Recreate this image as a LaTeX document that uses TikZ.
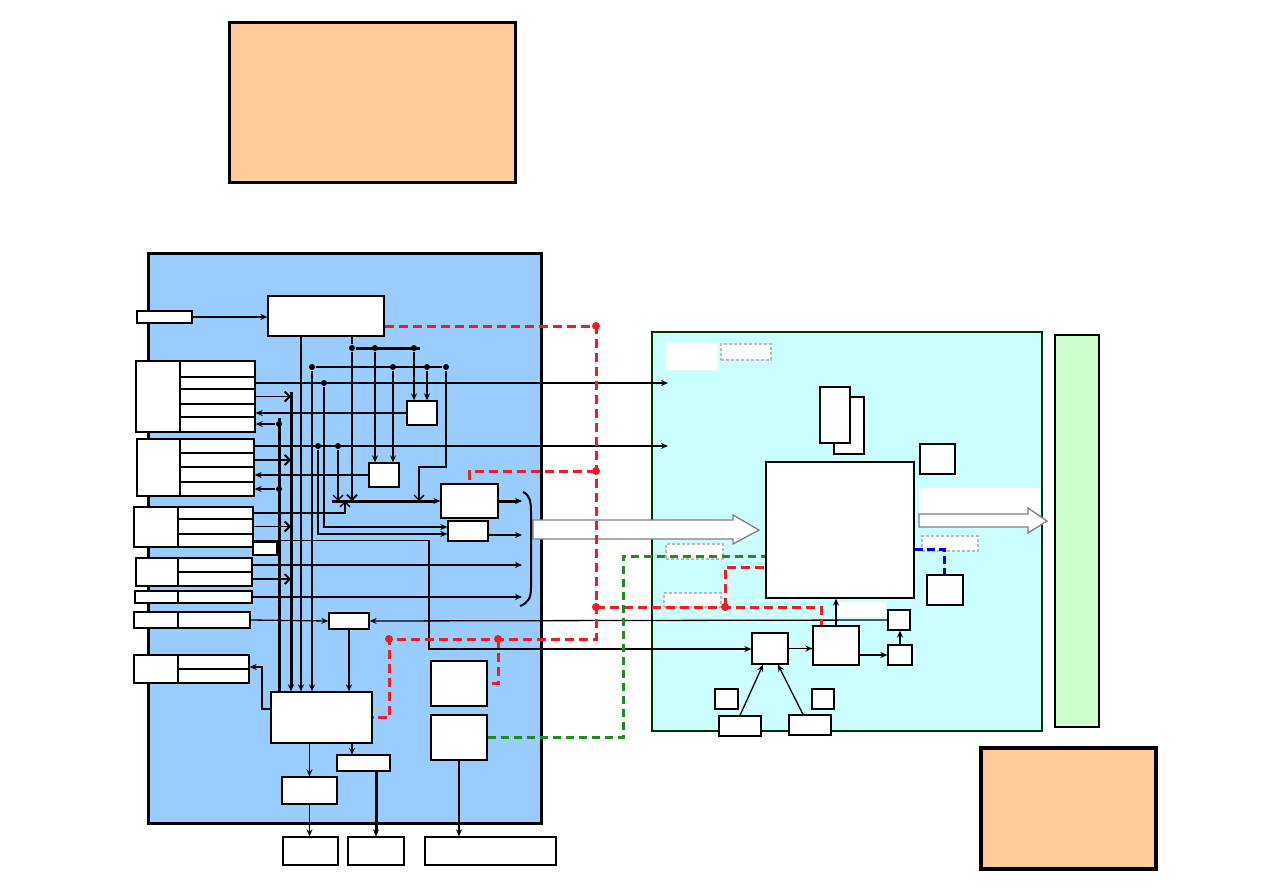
\documentclass[tikz,border=0pt]{standalone}
\usepackage{tikz}
\usetikzlibrary{arrows.meta}
\definecolor{boardblue}{HTML}{99CCFF}
\definecolor{boardcyan}{HTML}{CCFFFF}
\definecolor{railgreen}{HTML}{CCFFCC}
\definecolor{noteorange}{HTML}{FFCC99}
\definecolor{framegreen}{HTML}{003300}
\definecolor{sigred}{HTML}{EE1C25}
\definecolor{siggreen}{HTML}{1E8C1E}
\definecolor{sigblue}{HTML}{0000DD}

\begin{document}
\begin{tikzpicture}[x=1pt,y=-1pt,line width=1.3pt,
  >={Stealth[length=7pt,width=6pt]},
  blk/.style n args={2}{draw,fill=white,inner sep=0pt,minimum width=#1,minimum height=#2},
  tag/.style n args={2}{draw=gray!55,fill=white,dash pattern=on 3pt off 2pt,inner sep=0pt,minimum width=#1,minimum height=#2},
  pad/.style n args={2}{fill=white,inner sep=0pt,minimum width=#1,minimum height=#2},
  dot/.style={circle,fill,inner sep=0pt,minimum size=6pt},
  rdot/.style={circle,fill=sigred,inner sep=0pt,minimum size=8pt},
  mid/.style={line width=1.8pt},
  bus/.style={line width=3pt},
  barb/.style={-{Straight Barb[length=5pt,width=10pt]}},
  reddash/.style={draw=sigred,line width=3pt,dash pattern=on 9pt off 5pt},
  greendash/.style={draw=siggreen,line width=3pt,dash pattern=on 8pt off 5pt},
  bluedash/.style={draw=sigblue,line width=3pt,dash pattern=on 8pt off 4pt}]
\useasboundingbox (0,0) rectangle (1263,893);

% notes and boards
\filldraw[fill=noteorange,line width=3pt] (229,23) rectangle (515,183);
\filldraw[fill=noteorange,line width=4pt] (981,748) rectangle (1156,869);
\filldraw[fill=boardblue,line width=3pt] (148,254) rectangle (541,823);
\filldraw[fill=boardcyan,draw=framegreen,line width=2pt] (652,332) rectangle (1042,731);
\filldraw[fill=railgreen,line width=2pt] (1055,335) rectangle (1099,727);

% left board
\node[blk={55}{12}]  (src)  at (164.5,317) {};
\node[blk={116}{40}] (ctrl) at (326,316) {};
\node[blk={44}{71}] (g1)  at (158,396.5) {};
\node[blk={75}{16}] (g1a) at (217.5,369) {};
\node[blk={75}{12}] (g1b) at (217.5,383) {};
\node[blk={75}{15}] (g1c) at (217.5,396.5) {};
\node[blk={75}{13}] (g1d) at (217.5,410.5) {};
\node[blk={75}{15}] (g1e) at (217.5,424.5) {};
\node[blk={43}{57}] (g2)  at (158.5,467.5) {};
\node[blk={74}{14}] (g2a) at (217,446) {};
\node[blk={74}{14}] (g2b) at (217,460) {};
\node[blk={74}{15}] (g2c) at (217,474.5) {};
\node[blk={74}{14}] (g2d) at (217,489) {};
\node[blk={44}{40}] (g3)  at (156,527) {};
\node[blk={75}{12}] (g3a) at (215.5,513) {};
\node[blk={75}{15}] (g3b) at (215.5,526.5) {};
\node[blk={75}{13}] (g3c) at (215.5,540.5) {};
\node[blk={24}{13}] (g3s) at (265,548.5) {};
\node[blk={42}{28}] (g4)  at (157,572) {};
\node[blk={74}{14}] (g4a) at (215,565) {};
\node[blk={74}{14}] (g4b) at (215,579) {};
\node[blk={43}{12}] (g5)  at (156.5,597) {};
\node[blk={74}{12}] (g5a) at (215,597) {};
\node[blk={44}{16}] (g6)  at (156,620) {};
\node[blk={72}{16}] (g6a) at (214,620) {};
\node[blk={44}{28}] (g7)  at (156,669) {};
\node[blk={71}{14}] (g7a) at (213.5,662) {};
\node[blk={71}{14}] (g7b) at (213.5,676) {};

\node[blk={30}{24}]  (lat1) at (422,413) {};
\node[blk={30}{24}]  (lat2) at (384,475) {};
\node[blk={57}{34}]  (drv)  at (469.5,501) {};
\node[blk={40}{20}]  (aux)  at (468,531) {};
\node[blk={40}{16}]  (sel)  at (349,621) {};
\node[blk={101}{51}] (core) at (321.5,717.5) {};
\node[blk={55}{27}]  (outa) at (309.5,790.5) {};
\node[blk={53}{16}]  (outb) at (363.5,763) {};
\node[blk={55}{28}]  (conna) at (310.5,851) {};
\node[blk={56}{28}]  (connb) at (376,851) {};
\node[blk={56}{45}]  (pwra) at (459,683.5) {};
\node[blk={56}{45}]  (pwrb) at (459,737.5) {};
\node[blk={131}{28}] (connc) at (490.5,851) {};

% right board
\node[pad={52}{27}] (padA) at (692,356.5) {};
\node[pad={121}{25}] (padB) at (979.5,500.5) {};
\node[pad={48}{15}] (padC) at (862,609.5) {};
\node[tag={50}{16}] (tagA) at (746,352) {};
\node[tag={57}{15}] (tagB) at (694.5,551.5) {};
\node[tag={57}{14}] (tagC) at (692.5,600) {};
\node[tag={56}{15}] (tagD) at (950,543.5) {};
\node[blk={30}{57}]  (memb) at (849,425.5) {};
\node[blk={30}{56}]  (mema) at (835,415) {};
\node[blk={35}{30}]  (osc)  at (937.5,459) {};
\node[blk={148}{136}] (cpu) at (840,530) {};
\node[blk={36}{30}]  (eep)  at (945,590) {};
\node[blk={36}{31}]  (rx)   at (770,648.5) {};
\node[blk={46}{39}]  (reg)  at (836,645.5) {};
\node[blk={22}{20}]  (fba)  at (899,620) {};
\node[blk={24}{20}]  (fbb)  at (900,655) {};
\node[blk={23}{20}]  (ja)   at (726.5,699) {};
\node[blk={22}{20}]  (jb)   at (823,699) {};
\node[blk={42}{20}]  (ina)  at (740,726) {};
\node[blk={42}{20}]  (inb)  at (810,725) {};

% wide arrows and brace
\draw[draw=gray,fill=white] (533,520) -- (733,520) -- (733,515) -- (759,530) -- (733,544) -- (733,539) -- (533,539) -- cycle;
\draw[draw=gray,fill=white] (919,514) -- (1028,514) -- (1028,508) -- (1047,521) -- (1028,533) -- (1028,527) -- (919,527) -- cycle;
\draw[line width=2pt] (523,492) .. controls (530,495) and (531,502) .. (531,512) -- (531,588) .. controls (531,598) and (528,603) .. (520,606);

% junctions
\coordinate (vA) at (291,392);
\coordinate (vB) at (279,418);
\coordinate (vC) at (301,336);
\coordinate (busL) at (332,501);
\coordinate (jAend) at (420,348);
\coordinate (kn) at (419,467);
\coordinate (up1) at (345,513);
\coordinate (tn) at (429,649);
\coordinate (bk) at (262,667);
\coordinate (bl) at (352,755);
\coordinate (cin1) at (668,383);
\coordinate (cin2) at (668,446);
\coordinate (br1) at (522,501);
\coordinate (br2) at (522,535);
\coordinate (br3) at (522,565);
\coordinate (br4) at (522,597);
\node[dot] (jA1) at (352,348) {};
\node[dot] (jA2) at (375,348) {};
\node[dot] (jA3) at (414,348) {};
\node[dot] (jB0) at (312,367) {};
\node[dot] (jB1) at (393,367) {};
\node[dot] (jB2) at (427,367) {};
\node[dot] (jB3) at (446,367) {};
\node[dot] (jC)  at (324,383) {};
\node[dot] (jD1) at (318,446) {};
\node[dot] (jD2) at (338,446) {};
\node[dot] (jE1) at (279,424) {};
\node[dot] (jE2) at (279,489) {};

% vertical buses
\draw[bus,->] (vA) -- (vA |- core.north);
\draw[bus] (vB) -- (vB |- core.north);
\draw[->] (vC) -- (vC |- core.north);
\draw[mid,->] (jB0) -- (jB0 |- core.north);
\draw[->] (src.east) -- (src.east -| ctrl.west);
\draw[mid] (ctrl.south -| jA1) -- (jA1);
\draw[bus] (jA1) -- (jAend);
\draw[mid,barb] (jA1) -- (jA1 |- busL);
\draw[mid,->] (jA2) -- (jA2 |- lat2.north);
\draw[mid,->] (jA3) -- (jA3 |- lat1.north);
\draw[mid] (jB0) -- (jB3);
\draw[mid,->] (jB1) -- (jB1 |- lat2.north);
\draw[mid,->] (jB2) -- (jB2 |- lat1.north);
\draw[barb] (jB3) |- (kn) -- (kn |- busL);

% signal lines
\draw[->] (g1b.east) -- (cin1);
\draw[->] (g2a.east) -- (cin2);
\draw[->] (jC) |- ([yshift=4pt]aux.west);
\draw[->] (jD1) |- ([yshift=-3pt]aux.west);
\draw[barb] (jD2) -- (jD2 |- busL);
\draw[bus,->] (busL) -- (busL -| drv.west);
\draw[bus,->] (drv.east) -- (br1);
\draw[->] ([yshift=-4pt]aux.east) -- (br2);
\draw[barb] (g3a.east) -- (up1) -- (up1 |- busL);
\draw[mid,barb] (g1c.east) -- (g1c.east -| vA);
\draw[mid,barb] (g2b.east) -- (g2b.east -| vA);
\draw[mid,barb] (g3b.east) -- (g3b.east -| vA);
\draw[mid,barb] (g4b.east) -- (g4b.east -| vA);
\draw[->] (lat1.west) -- (lat1.west -| g1d.east);
\draw[->] (lat2.west) -- (lat2.west -| g2c.east);
\draw[->] (jE1) -- (jE1 -| g1e.east);
\draw[->] (jE2) -- (jE2 -| g2d.east);
\draw[->] (g4a.east) -- (br3);
\draw[mid,->] (g5a.east) -- (br4);
\draw[->] (g6a.east) -- (sel.west);
\draw[->] (fba.west) -- (sel.east);
\draw[->] (sel.south) -- (sel.south |- core.north);
\draw[->] (g3c.east) -| (tn) -- (tn -| rx.west);
\draw[->] ([yshift=8.5pt]core.west) -| (bk) -- (bk -| g7a.east);
\draw[->] (outa.north |- core.south) -- (outa.north);
\draw[->] (bl |- core.south) -- (bl);
\draw[->] (outa.south) -- (outa.south |- conna.north);
\draw[bus,->] (connb.north |- outb.south) -- (connb.north);
\draw[->] (pwrb.south) -- (pwrb.south |- connc.north);

% right board links
\draw[->] (rx.east) -- (rx.east -| reg.west);
\draw[->] (reg.north) -- (reg.north |- cpu.south);
\draw[mid,->] (fbb.west -| reg.east) -- (fbb.west);
\draw[mid,->] (fbb.north) -- (fbb.north |- fba.south);
\draw[->] (ina.north) -- ([xshift=-7pt]rx.south);
\draw[->] ([xshift=-7pt]inb.north) -- ([xshift=8pt]rx.south);

% dashed links
\node[rdot] (rd1) at (596,326) {};
\node[rdot] (rd2) at (596,471) {};
\node[rdot] (rd3) at (596,607) {};
\node[rdot] (rd4) at (725,607) {};
\node[rdot] (rd6) at (389,639) {};
\node[rdot] (rd7) at (498,639) {};
\coordinate (rd5) at (596,639);
\coordinate (rf) at (821,607);
\coordinate (rg) at (766,567);
\coordinate (gx) at (623,556);
\coordinate (bx) at (944,549);
\draw[reddash] ([yshift=-10pt]ctrl.east) -- (rd1.center) -- (rd5) -- (rd6.center) |- (core.east);
\draw[reddash] (rd2.center) -| (drv.north);
\draw[reddash] (rd3.center) -- (rf) -- (rf |- reg.north);
\draw[reddash] (rd4.center) |- (rg);
\draw[reddash] (rd7.center) |- (pwra.east);
\draw[greendash] (pwrb.east) -| (gx) -- (gx -| cpu.west);
\draw[bluedash] (bx -| cpu.east) -- (bx) -- (bx |- eep.north);
\end{tikzpicture}
\end{document}
